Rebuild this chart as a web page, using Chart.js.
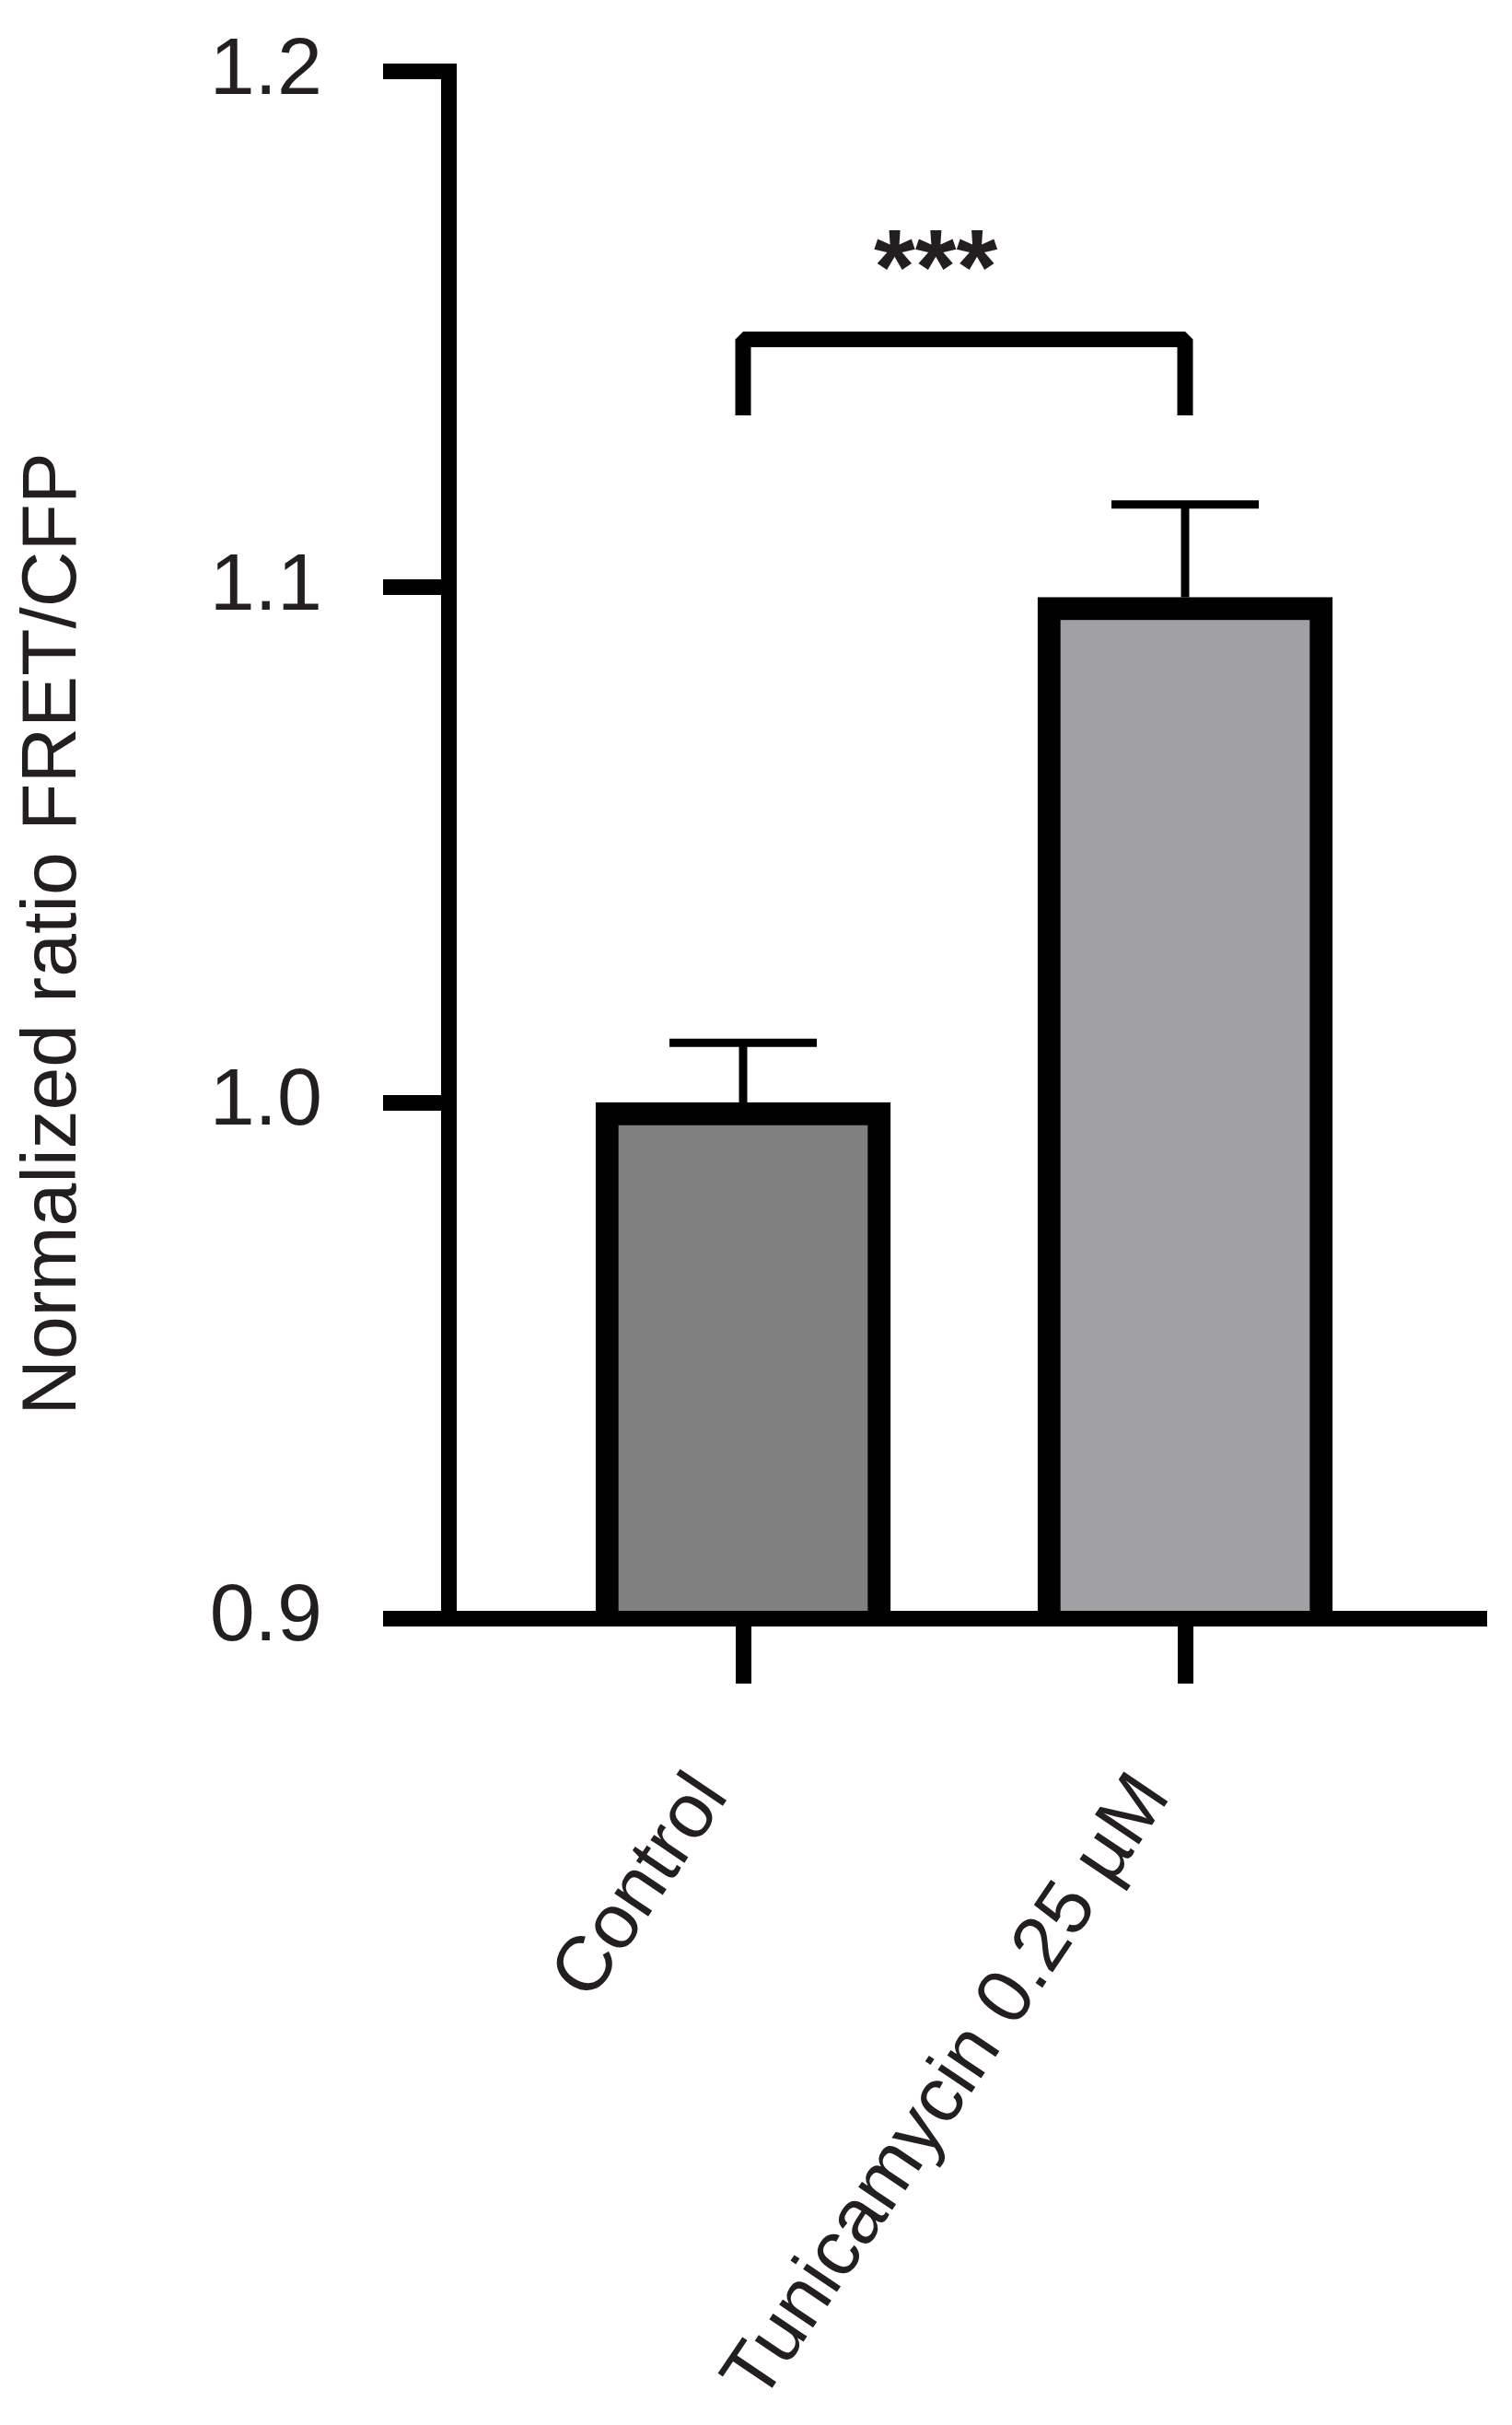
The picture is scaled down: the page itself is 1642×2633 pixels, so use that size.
<!DOCTYPE html>
<html>
<head>
<meta charset="utf-8">
<script src="https://cdn.jsdelivr.net/npm/chart.js@4.4.0/dist/chart.umd.min.js"></script>
<style>
  html, body { margin: 0; padding: 0; background: #fff; }
  canvas { display: block; }
</style>
</head>
<body>
<canvas id="myChart" width="1642" height="2633"></canvas>
<script>
// Data
const categories = ['Control', 'Tunicamycin 0.25 µM'];
const means = [1.0, 1.098];
const sems = [0.0116, 0.018];
const barColors = ['#808080', '#a1a0a5'];
const yTicks = [0.9, 1.0, 1.1, 1.2];
const yTitle = 'Normalized ratio FRET/CFP';

// significance bracket between the two groups
const sigPair = [0, 1];
const sigLevel = 1.148;
const sigLegEnd = 1.1333;
const sigLabel = '***';

const textColor = '#231f20';
const fontFamily = '"Liberation Sans", Arial, Helvetica, sans-serif';

// error bars (mean + SEM, upper only)
const errorBars = {
  id: 'errorBars',
  afterDatasetsDraw(chart) {
    const ctx = chart.ctx;
    const xs = chart.scales.x, ys = chart.scales.y;
    ctx.save();
    ctx.strokeStyle = '#000';
    ctx.lineWidth = 9;
    means.forEach((m, i) => {
      const px = xs.getPixelForValue(i);
      const top = ys.getPixelForValue(m + sems[i]);
      ctx.beginPath();
      ctx.moveTo(px, ys.getPixelForValue(m));
      ctx.lineTo(px, top);
      ctx.moveTo(px - 80, top);
      ctx.lineTo(px + 80, top);
      ctx.stroke();
    });
    ctx.restore();
  }
};

// bracket + stars
const sigBracket = {
  id: 'sigBracket',
  afterDatasetsDraw(chart) {
    const ctx = chart.ctx;
    const xs = chart.scales.x, ys = chart.scales.y;
    const x0 = xs.getPixelForValue(sigPair[0]);
    const x1 = xs.getPixelForValue(sigPair[1]);
    const yTop = ys.getPixelForValue(sigLevel);
    const yLeg = ys.getPixelForValue(sigLegEnd);
    ctx.save();
    ctx.strokeStyle = '#000';
    ctx.lineWidth = 17;
    ctx.lineJoin = 'bevel';
    ctx.beginPath();
    ctx.moveTo(x0, yLeg);
    ctx.lineTo(x0, yTop);
    ctx.lineTo(x1, yTop);
    ctx.lineTo(x1, yLeg);
    ctx.stroke();
    ctx.fillStyle = textColor;
    ctx.font = 'bold 115px ' + fontFamily;
    ctx.textAlign = 'center';
    ctx.textBaseline = 'alphabetic';
    ctx.fillText(sigLabel, (x0 + x1) / 2 - 31, yTop - 40);
    ctx.restore();
  }
};

// y axis title, drawn rotated on the left
const yAxisTitle = {
  id: 'yAxisTitle',
  afterDraw(chart) {
    const ctx = chart.ctx;
    ctx.save();
    ctx.translate(82, 1014);
    ctx.rotate(-Math.PI / 2);
    ctx.fillStyle = textColor;
    ctx.font = '84px ' + fontFamily;
    ctx.textAlign = 'center';
    ctx.textBaseline = 'alphabetic';
    ctx.fillText(yTitle, 0, 0);
    ctx.restore();
  }
};

var ctx = document.getElementById('myChart').getContext('2d');
var chart = new Chart(ctx, {
  type: 'bar',
  data: {
    datasets: [{
      data: means.map((v, i) => ({ x: i, y: v })),
      backgroundColor: barColors,
      borderColor: '#000',
      borderWidth: 25,
      borderSkipped: 'start',
      barThickness: 320,
    }]
  },
  plugins: [errorBars, sigBracket, yAxisTitle],
  options: {
    responsive: false,
    animation: false,
    devicePixelRatio: 1,
    layout: { padding: { top: 77.5, right: 35.5, bottom: 0, left: 0 } },
    plugins: {
      legend: { display: false },
      tooltip: { enabled: false }
    },
    scales: {
      x: {
        type: 'linear',
        offset: false,
        min: -0.6667,
        max: 1.6656,
        afterBuildTicks: (s) => { s.ticks = categories.map((c, i) => ({ value: i })); },
        afterFit: (s) => { s.height = 876; s.paddingLeft = 0; s.paddingRight = 0; },
        grid: { offset: false, drawOnChartArea: false, drawTicks: true, tickLength: 71, lineWidth: 17, color: '#000', z: 1 },
        border: { display: true, color: '#000', width: 17, z: 1 },
        ticks: {
          color: textColor,
          font: { family: fontFamily, size: 84 },
          minRotation: 56,
          maxRotation: 56,
          padding: 81,
          labelOffset: -34,
          autoSkip: false,
          callback: (v) => categories[v]
        }
      },
      y: {
        min: 0.9,
        max: 1.2,
        afterBuildTicks: (s) => { s.ticks = yTicks.map(v => ({ value: v })); },
        afterFit: (s) => { s.width = 487; s.paddingTop = 0; s.paddingBottom = 0; },
        grid: { drawOnChartArea: false, drawTicks: true, tickLength: 71, lineWidth: 17, color: '#000' },
        border: { display: true, color: '#000', width: 17 },
        ticks: {
          color: textColor,
          font: { family: fontFamily, size: 88 },
          padding: 66,
          callback: (v) => v.toFixed(1)
        }
      }
    }
  }
});
</script>
</body>
</html>
